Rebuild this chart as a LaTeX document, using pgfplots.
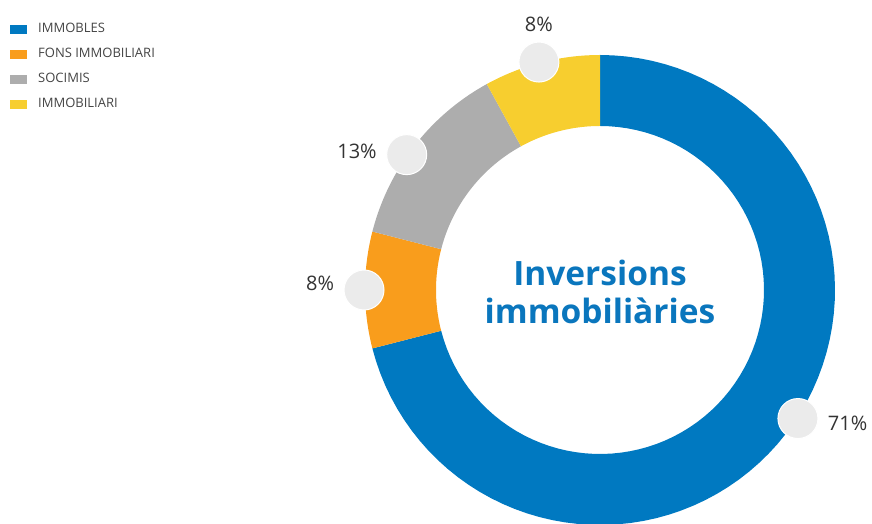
\documentclass[border=0pt]{standalone}
\usepackage{pgfplots}
\pgfplotsset{compat=1.18}
\usepackage{pgfplotstable}
\usepackage{fontspec}
\setmainfont{Open Sans}

\definecolor{cblue}{HTML}{0079C1}
\definecolor{corange}{HTML}{F99D1C}
\definecolor{cgray}{HTML}{ADADAD}
\definecolor{cyellow}{HTML}{F7CE2F}
\definecolor{bubble}{HTML}{EBEBEB}
\definecolor{txt}{HTML}{333333}
\definecolor{legtxt}{HTML}{444444}
\definecolor{title}{HTML}{0A76BD}

% share of each investment type (%), angle of its label bubble, anchor angle of its text
\pgfplotstableread{
pct lab anc
71 -33 175
8 180 352
13 145 356
8 105 270
}\slices

% slice borders, clockwise from 12 o'clock
\pgfplotstablegetelem{0}{pct}\of\slices \let\pA\pgfplotsretval
\pgfplotstablegetelem{1}{pct}\of\slices \let\pB\pgfplotsretval
\pgfplotstablegetelem{2}{pct}\of\slices \let\pC\pgfplotsretval
\pgfplotstablegetelem{3}{pct}\of\slices \let\pD\pgfplotsretval
\pgfmathsetmacro\aA{90}
\pgfmathsetmacro\aB{\aA-3.6*\pA}
\pgfmathsetmacro\aC{\aB-3.6*\pB}
\pgfmathsetmacro\aD{\aC-3.6*\pC}
\pgfmathsetmacro\aE{\aD-3.6*\pD}

% ring slice: outer arc, radial edge, inner arc back (centre 600,234; radii 235/164)
\newcommand\slice[3]{%
  \addplot[fill=#1, draw=none, domain=0:3, samples=241, variable=\t]
  ({600+(235-71*max(0,min(1,\t-1)))*cos((#2)+((#3)-(#2))*min(min(\t,1),3-\t))},
   {234+(235-71*max(0,min(1,\t-1)))*sin((#2)+((#3)-(#2))*min(min(\t,1),3-\t))});
}

\begin{document}
\begin{tikzpicture}
\begin{axis}[
    width=872pt, height=524pt, scale only axis,
    xmin=0, xmax=872, ymin=0, ymax=524,
    axis lines=none,
    /pgf/number format/assume math mode=true,
    legend image code/.code={\fill[#1] (0pt,-4.5pt) rectangle (17pt,4.5pt);},
    legend style={at={(axis cs:10,457)}, anchor=west, draw=none, fill=none,
        inner sep=0pt, row sep=12.7pt, column sep=11pt,
        font=\fontsize{13}{15}\selectfont, text=legtxt,
        nodes={inner sep=0pt, text height=9pt, text depth=3pt}},
    legend cell align=left,
]
\coordinate (bl) at (rel axis cs:0,0);
\coordinate (tr) at (rel axis cs:1,1);

\slice{cblue}{\aA}{\aB}
\addlegendentry{IMMOBLES}
\slice{corange}{\aB}{\aC}
\addlegendentry{FONS IMMOBILIARI}
\slice{cgray}{\aC}{\aD}
\addlegendentry{SOCIMIS}
\slice{cyellow}{\aD}{\aE}
\addlegendentry{IMMOBILIARI}

% label bubbles with the percentages
\addplot[forget plot, only marks, mark=*, mark size=20,
    mark options={fill=bubble, draw=white, line width=1pt},
    point meta=explicit,
    nodes near coords={\pgfmathprintnumber{\pgfplotspointmeta}\%},
    visualization depends on={\thisrow{anc}\as\anc},
    every node near coord/.append style={anchor=\anc, inner sep=0pt,
        outer sep=30pt, font=\fontsize{20}{24}\selectfont, text=txt}]
  table[x expr={600+236*cos(\thisrow{lab})},
        y expr={234+236*sin(\thisrow{lab})}, meta=pct] {\slices};

\node[align=center, font=\bfseries\fontsize{33.5}{38}\selectfont, text=title]
  at (axis cs:600,232) {Inversions\\immobiliàries};
\end{axis}
\pgfresetboundingbox
\useasboundingbox (bl) rectangle (tr);
\end{tikzpicture}
\end{document}
